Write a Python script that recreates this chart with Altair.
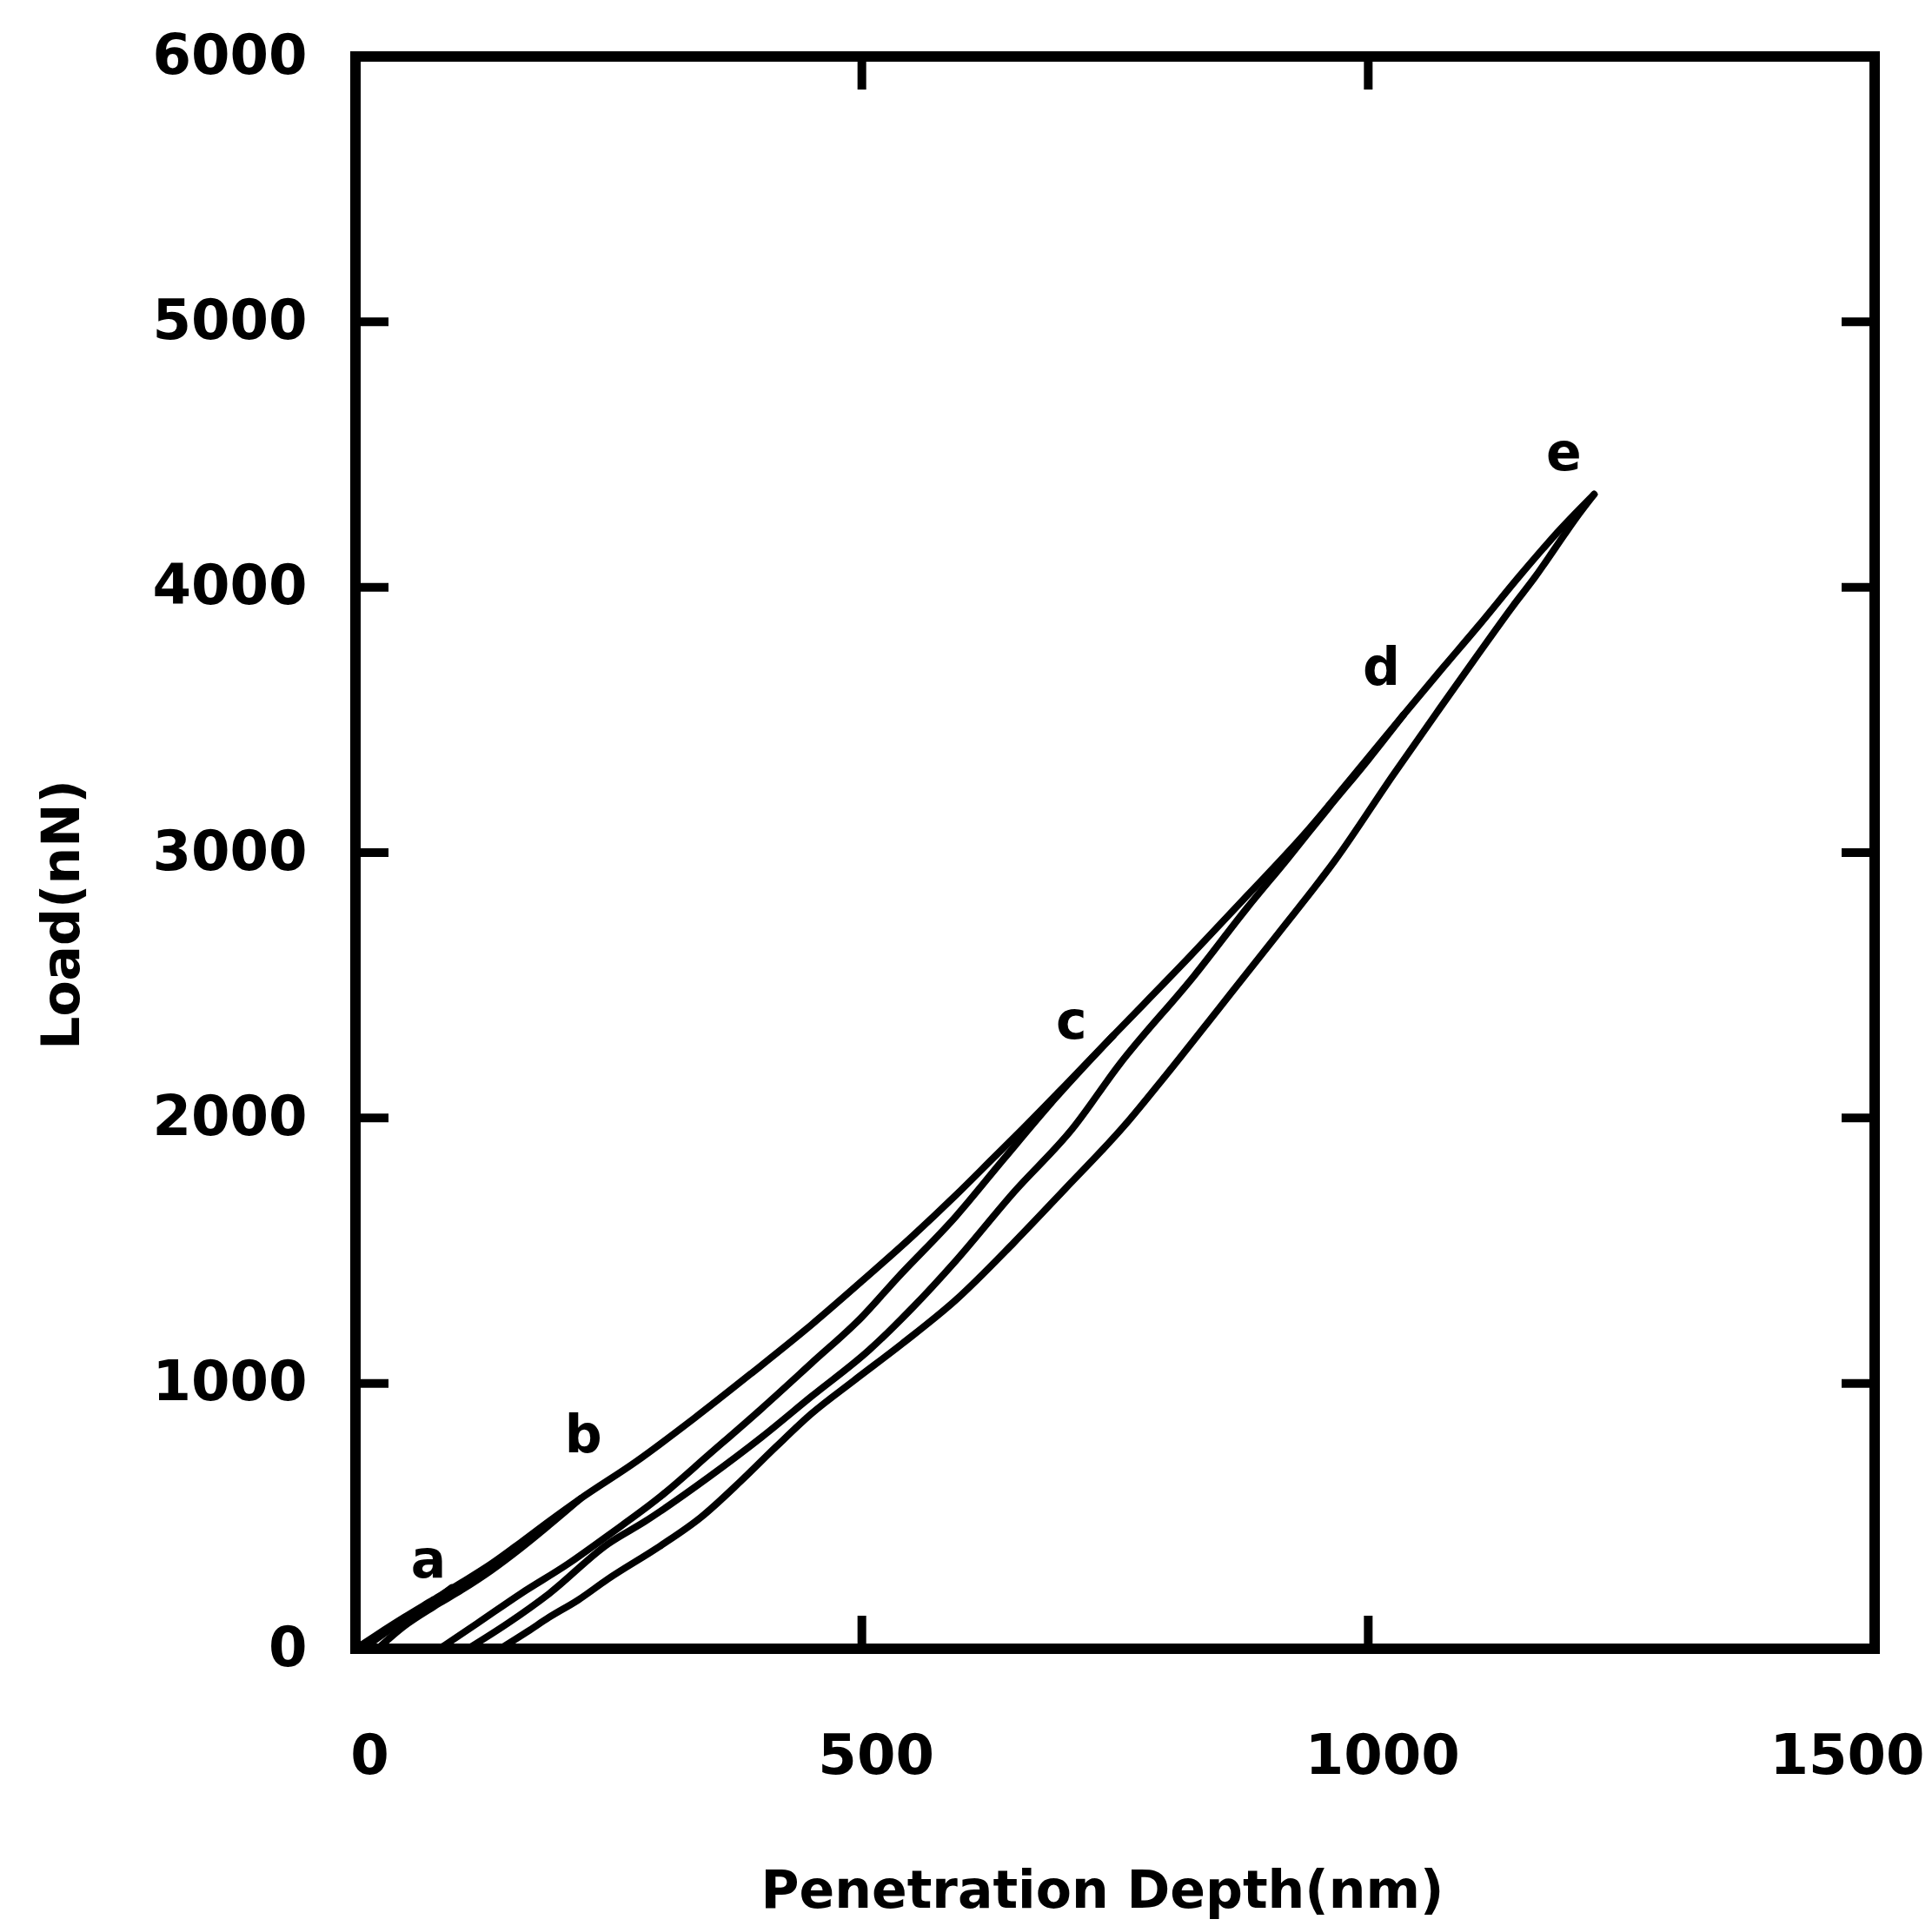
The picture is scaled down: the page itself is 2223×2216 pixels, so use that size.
import altair as alt
import pandas as pd

FONT = "DejaVu Sans"

# ---- axis ticks ----
x_ticks = [0, 500, 1000, 1500]
y_ticks = [0, 1000, 2000, 3000, 4000, 5000, 6000]
x_inner_ticks = [500, 1000]
y_inner_ticks = [1000, 2000, 3000, 4000, 5000]

# ---- curves (penetration depth nm, load nN) ----
loading_x = [0, 20, 48, 77, 105, 134, 163, 191, 222, 277, 335, 390, 450, 500, 550,
             593, 630, 659, 700, 748, 823, 881, 937, 996, 1035, 1070, 1109, 1150, 1190, 1223]
loading_y = [0, 50, 118, 185, 250, 320, 400, 480, 565, 705, 870, 1035, 1220, 1385, 1555,
             1710, 1850, 1960, 2120, 2310, 2605, 2840, 3070, 3340, 3520, 3680, 3855, 4045, 4220, 4350]

unload_a_x = [8, 22, 45, 70, 95]
unload_a_y = [0, 40, 100, 160, 230]

unload_b_x = [22, 48, 77, 105, 134, 163, 191, 222]
unload_b_y = [0, 85, 158, 222, 295, 378, 465, 565]

unload_c_x = [83, 120, 163, 210, 249, 300, 350, 401, 450, 500, 535, 593, 640, 690, 748]
unload_c_y = [0, 95, 207, 320, 426, 570, 735, 905, 1075, 1250, 1397, 1630, 1845, 2070, 2310]

unload_d_x = [111, 150, 191, 249, 286, 350, 401, 450, 507, 550, 593, 650, 708, 754, 829,
              880, 920, 960, 1000, 1035]
unload_d_y = [0, 95, 207, 394, 480, 650, 797, 950, 1125, 1285, 1463, 1720, 1960, 2200, 2540,
              2790, 2975, 3165, 3350, 3520]

unload_e_x = [143, 170, 191, 220, 249, 300, 341, 380, 415, 450, 492, 540, 593, 650, 700, 759,
              800, 852, 910, 968, 1025, 1070, 1109, 1143, 1165, 1185, 1205, 1223]
unload_e_y = [0, 65, 118, 184, 262, 385, 495, 630, 760, 885, 1010, 1150, 1315, 1530, 1730, 1970,
              2160, 2410, 2690, 2975, 3295, 3540, 3750, 3930, 4040, 4150, 4260, 4350]

# ---- curve letters ----
label_text = ["a", "b", "c", "d", "e"]
label_x = [72, 225, 707, 1013, 1193]
label_y = [328, 800, 2359, 3692, 4500]

curves = {
    "loading": (loading_x, loading_y),
    "a": (unload_a_x, unload_a_y),
    "b": (unload_b_x, unload_b_y),
    "c": (unload_c_x, unload_c_y),
    "d": (unload_d_x, unload_d_y),
    "e": (unload_e_x, unload_e_y),
}
rows = []
for name, (xs, ys) in curves.items():
    for i, (xv, yv) in enumerate(zip(xs, ys)):
        rows.append({"curve": name, "order": i, "depth": xv, "load": yv})
df = pd.DataFrame(rows)
df_labels = pd.DataFrame({"t": label_text, "depth": label_x, "load": label_y})
df_xt = pd.DataFrame({"depth": x_inner_ticks})
df_yt = pd.DataFrame({"load": y_inner_ticks})

W, H = 1748, 1832
TICK = 38

x_scale = alt.Scale(domain=[0, 1500], nice=False, zero=True)
y_scale = alt.Scale(domain=[0, 6000], nice=False, zero=True)

x_axis = alt.Axis(
    values=x_ticks, format="d", title="Penetration Depth(nm)", domain=False, ticks=False, grid=False,
    labelFont=FONT, labelFontSize=64, labelFontWeight="bold", labelColor="black",
    labelPadding=124, labelBaseline="middle", labelAlign="center", labelLimit=400,
    labelOffset={"condition": {"test": "datum.value === 1500", "value": -32}, "value": 16},
    labelFlush=False, labelOverlap=False,
    titleFont=FONT, titleFontSize=60, titleFontWeight="bold", titleColor="black",
    titleX=859, titleY=279, titleAlign="center", titleBaseline="middle",
)
y_axis = alt.Axis(
    values=y_ticks, format="d", title="Load(nN)", domain=False, ticks=False, grid=False,
    labelFont=FONT, labelFontSize=64, labelFontWeight="bold", labelColor="black",
    labelPadding=56, labelAlign="right", labelBaseline="middle", labelLimit=400,
    labelFlush=False, labelOverlap=False,
    titleFont=FONT, titleFontSize=60, titleFontWeight="bold", titleColor="black",
    titleAngle=270, titleX=-337, titleY=987, titleAlign="center", titleBaseline="middle",
)

X = alt.X("depth:Q", scale=x_scale, axis=x_axis)
Y = alt.Y("load:Q", scale=y_scale, axis=y_axis)

lines = alt.Chart(df).mark_line(
    color="black", strokeWidth=8, interpolate="monotone", strokeCap="round", strokeJoin="round"
).encode(x=X, y=Y, detail="curve:N", order="order:Q")

letters = alt.Chart(df_labels).mark_text(
    font=FONT, fontSize=60, fontWeight="bold", color="black", baseline="middle", align="center"
).encode(x=X, y=Y, text="t:N")

xt_bottom = alt.Chart(df_xt).mark_rule(color="black", strokeWidth=10).encode(
    x=X, y=alt.value(H), y2=alt.value(H - TICK))
xt_top = alt.Chart(df_xt).mark_rule(color="black", strokeWidth=10).encode(
    x=X, y=alt.value(0), y2=alt.value(TICK))
yt_left = alt.Chart(df_yt).mark_rule(color="black", strokeWidth=10).encode(
    y=Y, x=alt.value(0), x2=alt.value(TICK))
yt_right = alt.Chart(df_yt).mark_rule(color="black", strokeWidth=10).encode(
    y=Y, x=alt.value(W), x2=alt.value(W - TICK))

chart = alt.layer(lines, letters, xt_bottom, xt_top, yt_left, yt_right).properties(
    width=W, height=H,
    autosize=alt.AutoSizeParams(type="none"),
    padding={"left": 401, "top": 57, "right": 58, "bottom": 311},
    background="white",
).configure_view(stroke="black", strokeWidth=12)

chart.save("out.html", embed_options={"renderer": "svg", "actions": False})
